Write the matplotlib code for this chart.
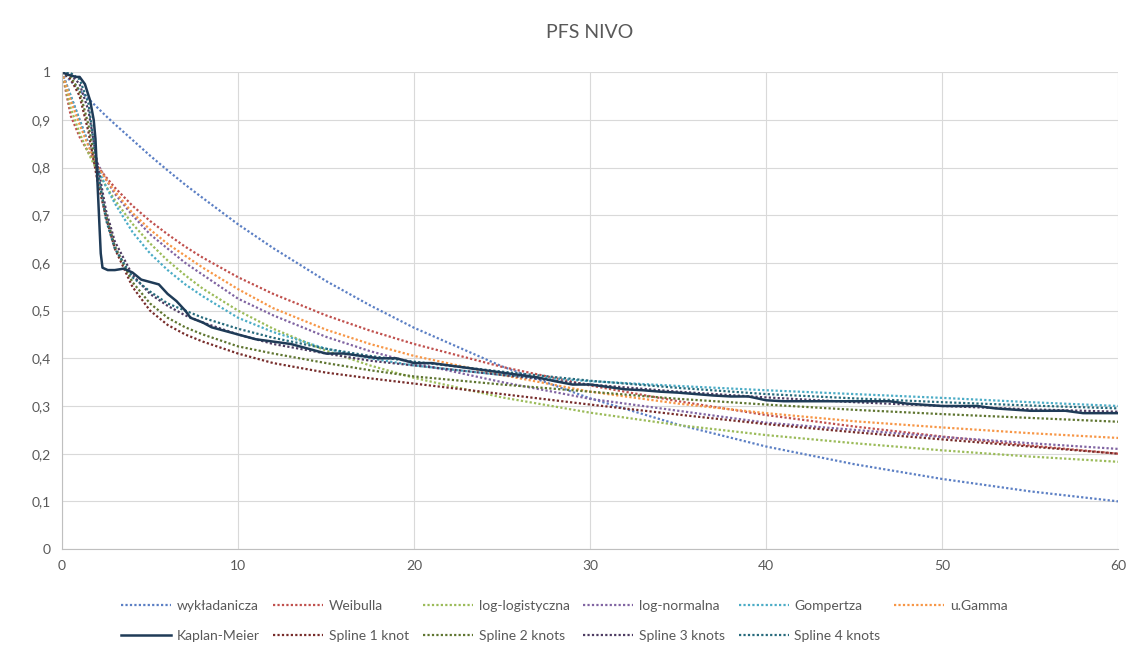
import numpy as np
import matplotlib.pyplot as plt

plt.rcParams['font.family'] = ['Lato', 'DejaVu Sans']

# czas (miesiące) dla krzywych modeli
t_mod = [0, 0.5, 1, 1.5, 2, 2.5, 3, 4, 5, 6, 7, 8, 10, 12, 15, 17.5, 20,
         25, 30, 35, 40, 45, 50, 55, 60]

wykladanicza = [1.0, 0.981, 0.962, 0.944, 0.926, 0.908, 0.891, 0.858, 0.825, 0.794,
                0.764, 0.736, 0.681, 0.631, 0.562, 0.511, 0.464, 0.383, 0.316,
                0.261, 0.215, 0.178, 0.147, 0.121, 0.100]
weibulla = [1.0, 0.908, 0.864, 0.832, 0.803, 0.780, 0.758, 0.720, 0.688, 0.660,
            0.634, 0.611, 0.570, 0.535, 0.490, 0.458, 0.430, 0.382, 0.343,
            0.310, 0.281, 0.257, 0.236, 0.217, 0.200]
log_logistyczna = [1.0, 0.924, 0.872, 0.830, 0.793, 0.761, 0.732, 0.682, 0.641, 0.605,
                   0.574, 0.546, 0.500, 0.462, 0.416, 0.385, 0.359, 0.318, 0.286,
                   0.260, 0.239, 0.222, 0.207, 0.194, 0.183]
log_normalna = [1.0, 0.95, 0.90, 0.85, 0.81, 0.775, 0.745, 0.70, 0.66, 0.63,
                0.60, 0.575, 0.525, 0.49, 0.445, 0.415, 0.39, 0.35, 0.315,
                0.29, 0.265, 0.25, 0.235, 0.222, 0.21]
gompertza = [1.0, 0.95, 0.90, 0.85, 0.80, 0.76, 0.725, 0.665, 0.62, 0.585,
             0.555, 0.53, 0.485, 0.455, 0.42, 0.40, 0.385, 0.365, 0.352,
             0.342, 0.333, 0.325, 0.317, 0.308, 0.30]
u_gamma = [1.0, 0.94, 0.89, 0.845, 0.805, 0.775, 0.75, 0.705, 0.67, 0.64,
           0.615, 0.59, 0.545, 0.505, 0.46, 0.43, 0.405, 0.365, 0.33,
           0.305, 0.285, 0.268, 0.255, 0.243, 0.233]
spline1 = [1.0, 0.985, 0.95, 0.875, 0.775, 0.695, 0.63, 0.55, 0.50, 0.47,
           0.45, 0.435, 0.41, 0.39, 0.37, 0.358, 0.347, 0.325, 0.303,
           0.282, 0.262, 0.245, 0.23, 0.215, 0.20]
spline2 = [1.0, 0.99, 0.96, 0.89, 0.79, 0.70, 0.635, 0.56, 0.515, 0.485,
           0.465, 0.45, 0.425, 0.41, 0.39, 0.375, 0.362, 0.345, 0.33,
           0.315, 0.303, 0.292, 0.283, 0.275, 0.267]
spline3 = [1.0, 0.995, 0.975, 0.92, 0.81, 0.71, 0.645, 0.575, 0.535, 0.51,
           0.49, 0.475, 0.45, 0.43, 0.41, 0.395, 0.385, 0.365, 0.345,
           0.33, 0.318, 0.308, 0.30, 0.293, 0.288]
spline4 = [1.0, 0.998, 0.985, 0.935, 0.80, 0.69, 0.63, 0.57, 0.54, 0.515,
           0.50, 0.485, 0.462, 0.443, 0.42, 0.405, 0.393, 0.372, 0.353,
           0.338, 0.325, 0.316, 0.308, 0.301, 0.295]

# Kaplan-Meier
t_km = [0, 0.3, 0.8, 1.0, 1.3, 1.6, 1.8, 1.9, 2.0, 2.1, 2.2, 2.3, 2.6, 3.0, 3.5,
        4.0, 4.5, 5.0, 5.5, 6.0, 6.5, 7.0, 7.3, 8.0, 8.5, 9.0, 10, 11, 12, 13,
        14, 15, 16, 17, 18, 19, 20, 21, 22, 23, 24, 25, 26, 27, 28, 29, 30, 31,
        32, 33, 34, 35, 36, 37, 38, 39, 40, 41, 43, 45, 47, 48, 50, 52, 53, 55,
        57, 58, 60]
s_km = [1.0, 0.995, 0.99, 0.99, 0.975, 0.94, 0.90, 0.86, 0.78, 0.70, 0.62, 0.59,
        0.585, 0.585, 0.588, 0.58, 0.565, 0.56, 0.555, 0.535, 0.52, 0.50, 0.485,
        0.475, 0.465, 0.46, 0.45, 0.44, 0.435, 0.43, 0.42, 0.41, 0.41, 0.405,
        0.40, 0.40, 0.39, 0.39, 0.385, 0.38, 0.375, 0.37, 0.365, 0.36, 0.352,
        0.345, 0.345, 0.34, 0.335, 0.333, 0.33, 0.328, 0.325, 0.322, 0.32, 0.32,
        0.312, 0.31, 0.31, 0.31, 0.31, 0.305, 0.30, 0.30, 0.295, 0.29, 0.29,
        0.285, 0.285]

fig = plt.figure(figsize=(11.4, 6.56), dpi=100)
ax = fig.add_axes([0.0544, 0.163, 0.9265, 0.727])

szary = '#595959'
kropki = (0, (1, 1))

modele = [
    ('wykładanicza', wykladanicza, '#5b7fc4'),
    ('Weibulla', weibulla, '#c0504d'),
    ('log-logistyczna', log_logistyczna, '#9bbb59'),
    ('log-normalna', log_normalna, '#8064a2'),
    ('Gompertza', gompertza, '#4bacc6'),
    ('u.Gamma', u_gamma, '#f79646'),
    ('Spline 1 knot', spline1, '#772c2a'),
    ('Spline 2 knots', spline2, '#5f7530'),
    ('Spline 3 knots', spline3, '#4d3b62'),
    ('Spline 4 knots', spline4, '#276a7c'),
]

linie = {}
for nazwa, s, kolor in modele:
    ln, = ax.plot(t_mod, s, color=kolor, lw=1.6, linestyle=kropki, label=nazwa)
    linie[nazwa] = ln

km, = ax.plot(t_km, s_km, color='#1f3b57', lw=1.8, label='Kaplan-Meier')
linie['Kaplan-Meier'] = km

ax.set_xlim(0, 60)
ax.set_ylim(0, 1)
ax.set_xticks(np.arange(0, 61, 10))
ax.set_yticks(np.arange(0, 1.01, 0.1))
ax.set_yticklabels(['0'] + ['0,%d' % i for i in range(1, 10)] + ['1'])
ax.grid(True, color='#d9d9d9', lw=0.8)
ax.set_axisbelow(True)
for s in ['top', 'right']:
    ax.spines[s].set_visible(False)
for s in ['left', 'bottom']:
    ax.spines[s].set_color('#bfbfbf')
ax.tick_params(length=0, labelsize=10, colors=szary, pad=8)

fig.text(0.5175, 0.95, 'PFS NIVO', ha='center', va='center', fontsize=14, color=szary)

kolejnosc = ['wykładanicza', 'Kaplan-Meier', 'Weibulla', 'Spline 1 knot',
             'log-logistyczna', 'Spline 2 knots', 'log-normalna', 'Spline 3 knots',
             'Gompertza', 'Spline 4 knots', 'u.Gamma']
leg = fig.legend([linie[k] for k in kolejnosc], kolejnosc, ncol=6, loc='center',
                 bbox_to_anchor=(0.495, 0.053), frameon=False, fontsize=10,
                 handlelength=3.6, handletextpad=0.4, columnspacing=1.0,
                 labelspacing=1.3)
for txt in leg.get_texts():
    txt.set_color(szary)

fig.savefig('out.png', dpi=100)
